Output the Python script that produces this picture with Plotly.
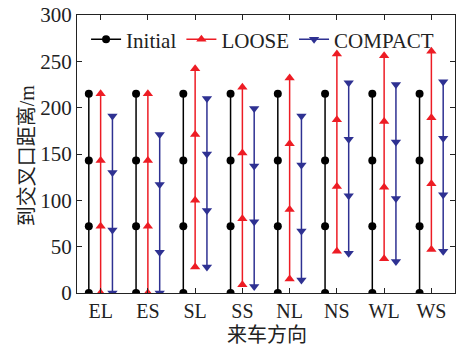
import plotly.graph_objects as go

categories = ["EL", "ES", "SL", "SS", "NL", "NS", "WL", "WS"]

initial = [
    [0, 72, 143, 215],
    [0, 72, 143, 215],
    [0, 72, 143, 215],
    [0, 72, 143, 215],
    [0, 72, 143, 215],
    [0, 72, 143, 215],
    [0, 72, 143, 215],
    [0, 72, 143, 215],
]
loose = [
    [0, 72, 143, 215],
    [0, 72, 143, 215],
    [28, 100, 171, 242],
    [9, 80, 151, 222],
    [15, 90, 161, 232],
    [45, 115, 187, 258],
    [37, 114, 185, 256],
    [47, 118, 189, 261],
]
compact = [
    [0, 68, 130, 191],
    [0, 44, 117, 171],
    [28, 89, 150, 210],
    [7, 77, 137, 199],
    [14, 67, 138, 191],
    [43, 105, 166, 227],
    [34, 102, 163, 225],
    [45, 106, 167, 228],
]
y_ticks = [0, 50, 100, 150, 200, 250, 300]

series = [
    ("Initial", initial, -0.25, "#000000", "circle"),
    ("LOOSE", loose, 0.0, "#ED1C24", "triangle-up"),
    ("COMPACT", compact, 0.25, "#2E3192", "triangle-down"),
]

FONT = "Liberation Serif"
MIXED = "Liberation Serif, Noto Sans CJK SC"
CJK = "Noto Sans CJK SC"
TXT = "#222222"

fig = go.Figure()
for name, vals, off, color, sym in series:
    xs, ys = [], []
    for i, col in enumerate(vals):
        for v in col:
            xs.append(i + 1 + off)
            ys.append(v)
        xs.append(None)
        ys.append(None)
    fig.add_trace(go.Scatter(
        x=xs, y=ys, name=name, mode="lines+markers",
        line=dict(color=color, width=1.5),
        marker=dict(color=color, size=9 if sym != "circle" else 8, symbol=sym),
        connectgaps=False,
    ))

fig.update_layout(
    width=458, height=347,
    margin=dict(l=77, r=3, t=15, b=54),
    paper_bgcolor="white", plot_bgcolor="white",
    font=dict(family=FONT, size=21, color=TXT),
    showlegend=True,
    legend=dict(
        orientation="h", x=0.024, y=0.985, xanchor="left", yanchor="top",
        bgcolor="rgba(255,255,255,0)", borderwidth=0,
        font=dict(family=FONT, size=21, color=TXT),
        itemwidth=30, tracegroupgap=0,
    ),
    annotations=[
        dict(text="来车方向", xref="paper", yref="paper", x=0.503, y=-0.145,
             xanchor="center", yanchor="middle", showarrow=False,
             font=dict(family=CJK, size=20, color=TXT)),
        dict(text="到交叉口距离/m", xref="paper", yref="paper", x=-0.13, y=0.495,
             xanchor="center", yanchor="middle", showarrow=False, textangle=-90,
             font=dict(family=MIXED, size=20, color=TXT)),
    ],
)
fig.update_xaxes(
    range=[0.5, 8.5], tickmode="array",
    tickvals=list(range(1, len(categories) + 1)), ticktext=categories,
    ticks="inside", ticklen=5, tickcolor=TXT, showline=True, linecolor=TXT,
    linewidth=1, mirror="ticks", showgrid=False, zeroline=False, automargin=False,
    tickfont=dict(family=FONT, size=20), ticklabeloverflow="allow",
)
fig.update_yaxes(
    range=[0, 300], tickmode="array", tickvals=y_ticks,
    ticks="inside", ticklen=5, tickcolor=TXT, showline=True, linecolor=TXT,
    linewidth=1, mirror="ticks", showgrid=False, zeroline=False, automargin=False,
    tickfont=dict(family=FONT, size=21), ticklabeloverflow="allow",
)

fig.write_html(
    "out.html",
    config={"displayModeBar": False},
    post_script="document.body.style.margin='0';document.body.style.overflow='hidden';",
)
